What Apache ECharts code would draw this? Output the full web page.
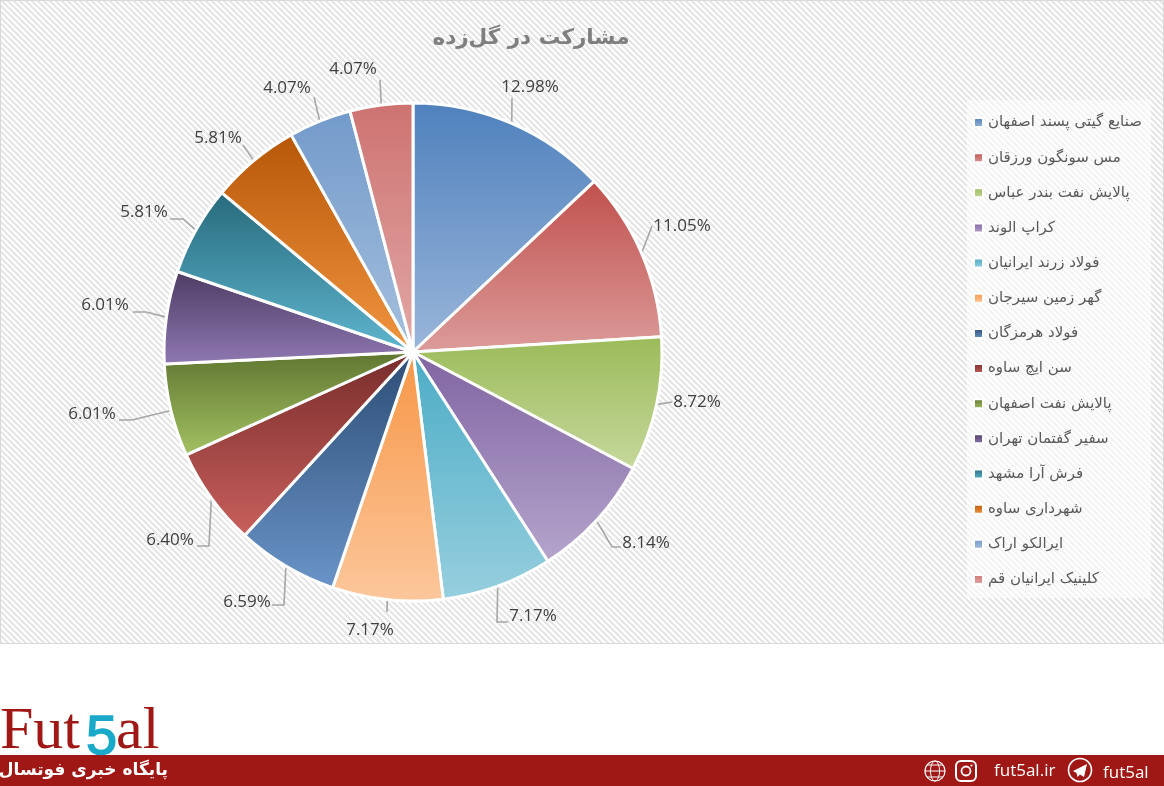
<!DOCTYPE html>
<html><head><meta charset="utf-8">
<style>html,body{margin:0;padding:0;background:#fff}#c{width:1164px;height:786px}</style>
<script src="https://cdn.jsdelivr.net/npm/echarts@6/dist/echarts.min.js"></script>
</head><body><div id="c"></div>
<script>
const titleText = 'مشارکت در گل‌زده';
const categories = ['صنایع گیتی پسند اصفهان','مس سونگون ورزقان','پالایش نفت بندر عباس','کراپ الوند','فولاد زرند ایرانیان','گهر زمین سیرجان','فولاد هرمزگان','سن ایچ ساوه','پالایش نفت اصفهان','سفیر گفتمان تهران','فرش آرا مشهد','شهرداری ساوه','ایرالکو اراک','کلینیک ایرانیان قم'];
const values = [12.98,11.05,8.72,8.14,7.17,7.17,6.59,6.40,6.01,6.01,5.81,5.81,4.07,4.07];
const topColors = ['#4f81bd','#c0504d','#9bbb59','#8064a2','#4bacc6','#f79646','#2c4d75','#772c2a','#5f7530','#4d3b62','#276a7c','#b65708','#729aca','#cd7371'];
const bottomColors = ['#9ab6da','#dc9c9a','#c6d89c','#b5a5cc','#97cfde','#fcc79c','#6a94c8','#c9605d','#a3c263','#9079b3','#5fb6cf','#f2953f','#a6c0de','#e2a8a6'];

// label placement (layout only): label centre, then the leader's bend and end points
const labelPlacement = [
  {c:[530,87], line:[[512,98]]},
  {c:[682,226],line:[[652,226]]},
  {c:[697,402],line:[[672,402]]},
  {c:[646,543],line:[[612,547],[621,547]]},
  {c:[533,616],line:[[497,622],[508,622]]},
  {c:[370,630],line:[[387,612]]},
  {c:[247,602],line:[[284,605],[272,605]]},
  {c:[170,540],line:[[209,546],[197,546]]},
  {c:[92,414], line:[[132,420],[119,420]]},
  {c:[105,305],line:[[146,312],[133,312]]},
  {c:[144,212],line:[[183,219],[170,219]]},
  {c:[218,138],line:[[243,145]]},
  {c:[287,88], line:[[314,97]]},
  {c:[353,69], line:[[380,80]]}
];

const tile = document.createElement('canvas');
tile.width = 6; tile.height = 6;
const t = tile.getContext('2d');
t.fillStyle = '#ffffff'; t.fillRect(0,0,6,6);
t.fillStyle = '#e6e6e6';
for (let y=0;y<6;y++){ for (let k=0;k<3;k++){ t.fillRect((y+k)%6,y,1,1); } }

const chart = echarts.init(document.getElementById('c'));
const grad = (a,b)=>({type:'linear',x:0,y:0,x2:0,y2:1,colorStops:[{offset:0,color:a},{offset:1,color:b}]});
const RED='#a01815';
chart.setOption({
  animation:false,
  backgroundColor:'#ffffff',
  title:{text:titleText,left:526,top:22,textAlign:'center',textStyle:{fontFamily:'DejaVu Sans',fontSize:21.5,fontWeight:'bold',color:'#7f7f7f'}},
  legend:{orient:'vertical',left:968,top:110,icon:'rect',itemWidth:9,itemHeight:9,itemGap:20.15,
    textStyle:{fontFamily:'DejaVu Sans',fontSize:15,color:'#595959',lineHeight:14,height:14},data:categories},
  graphic:[
    {type:'rect',z:-10,silent:true,shape:{x:0,y:0,width:1164,height:644},style:{fill:{image:tile,repeat:'repeat'}}},
    {type:'rect',z:-9,silent:true,shape:{x:0.5,y:0.5,width:1163,height:643},style:{fill:'none',stroke:'#d9d9d9',lineWidth:1}},
    {type:'rect',z:-8,silent:true,shape:{x:967,y:100,width:184,height:498},style:{fill:'rgba(255,255,255,0.55)'}},
    {type:'rect',z:1,silent:true,shape:{x:0,y:755,width:1164,height:31},style:{fill:RED}},
    {type:'text',z:2,silent:true,style:{x:0,y:762,text:'Fut',font:'60px "Liberation Serif"',fill:RED,verticalAlign:'bottom'}},
    {type:'text',z:3,silent:true,style:{x:86,y:767,text:'5',font:'56px "Liberation Sans"',fill:'#1aa9c9',stroke:'#1aa9c9',lineWidth:1.5,verticalAlign:'bottom'}},
    {type:'text',z:2,silent:true,style:{x:116,y:762,text:'al',font:'60px "Liberation Serif"',fill:RED,verticalAlign:'bottom'}},
    {type:'text',z:2,silent:true,style:{x:168,y:771,text:'پایگاه خبری فوتسال',font:'bold 17px "DejaVu Sans"',fill:'#fff',align:'right',verticalAlign:'middle'}},
    {type:'text',z:2,silent:true,style:{x:994,y:771,text:'fut5al.ir',font:'17px "Open Sans"',fill:'#fff',verticalAlign:'middle'}},
    {type:'text',z:2,silent:true,style:{x:1103,y:773,text:'fut5al',font:'17px "Open Sans"',fill:'#fff',verticalAlign:'middle'}},
    {type:'circle',z:2,silent:true,shape:{cx:935,cy:771,r:10},style:{fill:'none',stroke:'#fff',lineWidth:1.2}},
    {type:'ellipse',z:2,silent:true,shape:{cx:935,cy:771,rx:4.5,ry:10},style:{fill:'none',stroke:'#fff',lineWidth:1}},
    {type:'line',z:2,silent:true,shape:{x1:925,y1:771,x2:945,y2:771},style:{stroke:'#fff',lineWidth:1}},
    {type:'line',z:2,silent:true,shape:{x1:927,y1:765,x2:943,y2:765},style:{stroke:'#fff',lineWidth:1}},
    {type:'line',z:2,silent:true,shape:{x1:927,y1:777,x2:943,y2:777},style:{stroke:'#fff',lineWidth:1}},
    {type:'rect',z:2,silent:true,shape:{x:956,y:761,width:20,height:20,r:5},style:{fill:'none',stroke:'#fff',lineWidth:2}},
    {type:'circle',z:2,silent:true,shape:{cx:966,cy:771,r:4.5},style:{fill:'none',stroke:'#fff',lineWidth:1.8}},
    {type:'circle',z:2,silent:true,shape:{cx:971.5,cy:765.5,r:1.1},style:{fill:'#fff'}},
    {type:'circle',z:2,silent:true,shape:{cx:1080,cy:770,r:11.5},style:{fill:'none',stroke:'#fff',lineWidth:1.6}},
    {type:'polygon',z:2,silent:true,shape:{points:[[1073,771],[1087,764],[1084,777],[1080,774.5],[1077.5,777],[1076.5,773]]},style:{fill:'#fff'}}
  ],
  series:[{
    type:'pie',radius:249,center:[413,352],startAngle:90,clockwise:true,avoidLabelOverlap:false,
    itemStyle:{borderColor:'#fff',borderWidth:3},
    label:{show:true,position:'outside',formatter:p=>p.value.toFixed(2)+'%',fontFamily:'Open Sans',fontSize:17,color:'#404040'},
    labelLine:{show:true,length:14,length2:14,lineStyle:{color:'#a6a6a6',width:1.6}},
    labelLayout:function(params){
      const p = labelPlacement[params.dataIndex];
      const start = params.labelLinePoints ? params.labelLinePoints[0] : p.line[0];
      return {x:p.c[0],y:p.c[1],align:'center',verticalAlign:'middle',labelLinePoints:[start].concat(p.line)};
    },
    emphasis:{disabled:true},
    data:categories.map((n,i)=>({name:n,value:values[i],itemStyle:{color:grad(topColors[i],bottomColors[i])}}))
  }]
});
</script></body></html>
